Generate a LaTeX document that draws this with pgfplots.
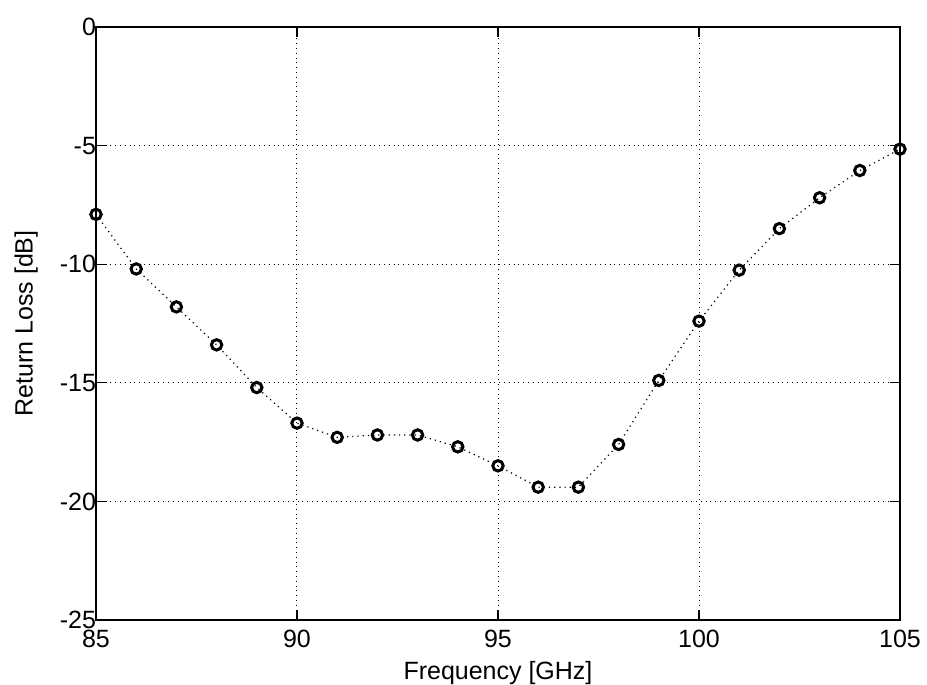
\documentclass[border=0pt]{standalone}
\usepackage{fontspec}
\setmainfont{Liberation Sans}
\usepackage{pgfplots}
\pgfplotsset{compat=1.18}
\usetikzlibrary{calc}

\begin{document}
\begin{tikzpicture}
\begin{axis}[
    name=ax,
    scale only axis,
    width=402pt,
    height=296.5pt,
    xmin=85, xmax=105,
    ymin=-25, ymax=0,
    xtick={85,90,95,100,105},
    ytick={-25,-20,-15,-10,-5,0},
    font=\fontsize{12.5}{14}\selectfont,
    /pgf/number format/assume math mode=true,
    tick align=inside,
    major tick length=5pt,
    tick style={black, line width=0.6pt},
    axis line style={black, line width=0.8pt},
    grid=major,
    grid style={black, dotted, line width=0.5pt},
    xlabel={Frequency [GHz]},
    ylabel={Return Loss [dB]},
    xlabel style={at={(axis description cs:0.5,-0.089)}, anchor=center},
    ylabel style={at={(axis description cs:-0.087,0.5)}, anchor=center},
    xticklabel style={yshift=-1.5pt},
    yticklabel style={xshift=3.5pt},
]
\addplot[black, dotted, line width=0.6pt, mark=o, mark size=2.6pt,
    mark options={solid, line width=1.5pt}] coordinates {
    (85,-7.9) (86,-10.2) (87,-11.8) (88,-13.4) (89,-15.2) (90,-16.7)
    (91,-17.3) (92,-17.2) (93,-17.2) (94,-17.7) (95,-18.5) (96,-19.4)
    (97,-19.4) (98,-17.6) (99,-14.9) (100,-12.4) (101,-10.25) (102,-8.5)
    (103,-7.2) (104,-6.05) (105,-5.15)
};
\end{axis}
\pgfresetboundingbox
\path ($(ax.south west)+(-48pt,-32.5pt)$) rectangle ($(ax.north east)+(13.5pt,13.5pt)$);
\end{tikzpicture}
\end{document}
